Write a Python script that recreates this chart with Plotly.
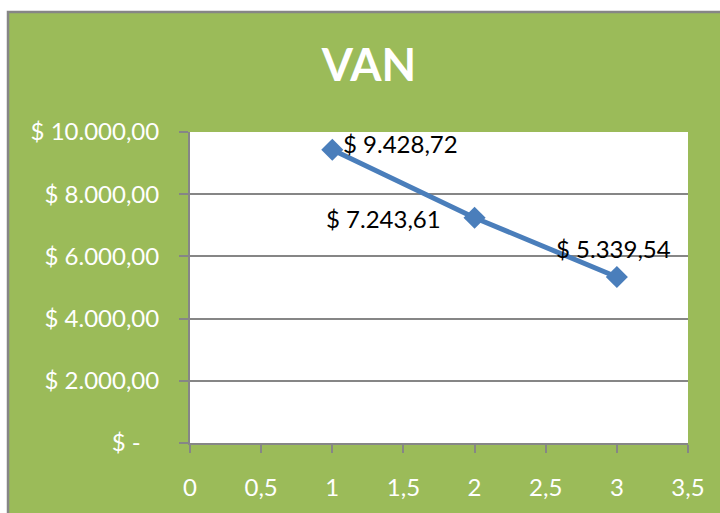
import plotly.graph_objects as go

# Data
periods = [1, 2, 3]
van_values = [9428.72, 7243.61, 5339.54]
value_labels = ["$ 9.428,72", "$ 7.243,61", "$ 5.339,54"]
y_tick_vals = [0, 2000, 4000, 6000, 8000, 10000]
y_tick_text = ["$ -\u00a0\u00a0\u00a0", "$ 2.000,00", "$ 4.000,00", "$ 6.000,00", "$ 8.000,00", "$ 10.000,00"]
x_tick_vals = [0, 0.5, 1, 1.5, 2, 2.5, 3, 3.5]
x_tick_text = ["0", "0,5", "1", "1,5", "2", "2,5", "3", "3,5"]

GREEN = "#9BBB59"
BLUE = "#4A7EBB"
GRAY = "#868686"
FONT = "Lato"

fig = go.Figure()
fig.add_trace(go.Scatter(
    x=periods, y=van_values, mode="lines+markers",
    line=dict(color=BLUE, width=5),
    marker=dict(symbol="diamond", size=17, color=BLUE),
    hoverinfo="skip", showlegend=False,
))

# data labels (Excel-style positions: right, left, above)
label_pos = [dict(xanchor="left", yanchor="middle", xshift=9, yshift=6),
             dict(xanchor="right", yanchor="middle", xshift=-32, yshift=-1),
             dict(xanchor="center", yanchor="bottom", xshift=-3, yshift=12)]
for xv, yv, txt, pos in zip(periods, van_values, value_labels, label_pos):
    fig.add_annotation(x=xv, y=yv, text=txt, showarrow=False,
                       font=dict(family=FONT, size=24, color="black"), **pos)

W, H = 720, 513
L, R, T, B = 190, 32, 132, 70
pw, ph = W - L - R, H - T - B

def px_x(p):
    return (p - L) / pw

def px_y(q):
    return (H - B - q) / ph

# chart area (green, grey border) and white plot area
fig.add_shape(type="rect", xref="paper", yref="paper",
              x0=px_x(8), x1=px_x(730), y0=px_y(525), y1=px_y(12),
              fillcolor=GREEN, line=dict(color=GRAY, width=2.5), layer="below")
fig.add_shape(type="rect", xref="paper", yref="paper",
              x0=0, x1=1, y0=0, y1=1,
              fillcolor="white", line=dict(width=0), layer="below")

fig.update_layout(
    width=W, height=H,
    margin=dict(l=L, r=R, t=T, b=B, pad=0),
    paper_bgcolor="white", plot_bgcolor="rgba(0,0,0,0)",
    title=dict(text="<b>VAN</b>", xref="paper", x=px_x(369), xanchor="center",
               yref="container", y=1 - 65 / H, yanchor="middle",
               font=dict(family=FONT, size=45, color="white")),
    font=dict(family=FONT),
)
fig.update_xaxes(range=[0, 3.5], tickvals=x_tick_vals, ticktext=x_tick_text,
                 showgrid=False, zeroline=False, showline=True, linecolor=GRAY, linewidth=2,
                 ticks="outside", ticklen=8, tickwidth=2, tickcolor=GRAY,
                 ticklabelstandoff=14,
                 tickfont=dict(family=FONT, size=24, color="white"))
fig.update_yaxes(range=[0, 10000], tickvals=y_tick_vals, ticktext=y_tick_text,
                 showgrid=True, gridcolor=GRAY, gridwidth=1.5, zeroline=False,
                 showline=True, linecolor=GRAY, linewidth=2,
                 ticks="outside", ticklen=9, tickwidth=2, tickcolor=GRAY,
                 ticklabelstandoff=15,
                 tickfont=dict(family=FONT, size=24, color="white"))

fig.write_html("out.html", config={"displayModeBar": False},
               post_script="document.body.style.margin='0px';document.body.style.overflow='hidden';")
